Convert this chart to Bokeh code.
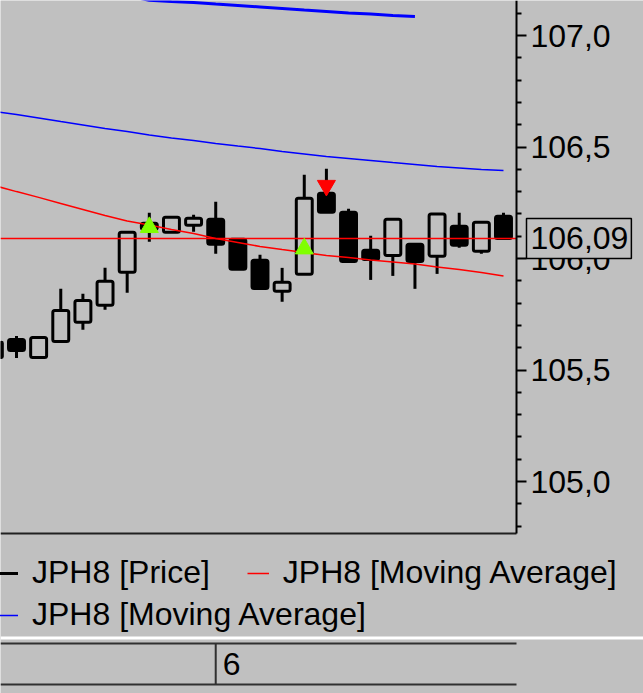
from bokeh.plotting import figure
from bokeh.models import (Range1d, FixedTicker, Legend, LegendItem, Label, Span,
                          ColumnDataSource, LinearAxis)
from bokeh.embed import file_html
from bokeh.resources import INLINE
from bokeh.core.properties import value

# ---------------- data ----------------
bar_index = list(range(24))
opens  = [105.556, 105.637, 105.556, 105.628, 105.714, 105.790, 105.938, 106.158,
          106.118, 106.149, 106.176, 106.086, 105.992, 105.853, 105.929, 106.293,
          106.207, 106.037, 106.014, 106.064, 106.010, 106.145, 106.032, 106.189]
highs  = [105.624, 105.653, 105.646, 105.864, 105.842, 105.958, 106.118, 106.205,
          106.185, 106.196, 106.255, 106.086, 106.017, 105.958, 106.376, 106.403,
          106.223, 106.102, 106.176, 106.064, 106.199, 106.205, 106.163, 106.205]
lows   = [105.556, 105.554, 105.556, 105.628, 105.680, 105.770, 105.846, 106.075,
          106.118, 106.120, 106.021, 105.952, 105.866, 105.806, 105.929, 106.207,
          105.987, 105.904, 105.922, 105.864, 105.931, 106.048, 106.021, 106.090]
closes = [105.624, 105.588, 105.646, 105.767, 105.812, 105.898, 106.118, 106.131,
          106.185, 106.181, 106.064, 105.952, 105.866, 105.893, 106.270, 106.207,
          105.987, 105.996, 106.176, 105.987, 106.199, 106.059, 106.163, 106.090]

ma_red = [106.327, 106.300, 106.274, 106.247, 106.220, 106.193, 106.168, 106.150,
          106.130, 106.112, 106.090, 106.072, 106.054, 106.040, 106.027, 106.013,
          106.004, 105.993, 105.984, 105.975, 105.962, 105.951, 105.937, 105.922]
ma_blue = [106.659, 106.646, 106.630, 106.614, 106.599, 106.583, 106.570, 106.554,
           106.540, 106.529, 106.516, 106.504, 106.493, 106.480, 106.469, 106.457,
           106.448, 106.439, 106.430, 106.422, 106.413, 106.406, 106.399, 106.395]
ma_blue_upper_index = list(range(6, 20))
ma_blue_upper = [107.178, 107.158, 107.152, 107.148, 107.141, 107.135, 107.128,
                 107.121, 107.114, 107.108, 107.101, 107.096, 107.090, 107.085]

buy_index = [7, 14]
buy_price = [106.140, 106.044]
sell_index = [15]
sell_price = [106.327]

y_ticks = [105.0, 105.5, 106.0, 106.5, 107.0]
y_tick_labels = ["105,0", "105,5", "106,0", "106,5", "107,0"]
y_minor_ticks = [104.8, 104.9, 105.1, 105.2, 105.3, 105.4, 105.6, 105.7, 105.8,
                 105.9, 106.1, 106.2, 106.3, 106.4, 106.6, 106.7, 106.8, 106.9, 107.1]

series_names = ["JPH8 [Price]", "JPH8 [Moving Average]", "JPH8 [Moving Average]"]
day_labels = ["6"]
day_start_index = [10]

# ---------------- layout / style ----------------
BG = "#C0C0C0"
FONT = "Liberation Sans"
FS = "32px"
W, H = 643, 693
PX_PER_BAR = 22.136          # horizontal pixels per bar
PX_PER_UNIT = 223.0          # vertical pixels per price unit
X_START = 1 - 16 / PX_PER_BAR
Y_TOP = 107.0 + 35 / PX_PER_UNIT


def px(sx):   # screen x (pixels from left) -> bar coordinate
    return X_START + sx / PX_PER_BAR


def py(sy):   # screen y (pixels from top) -> price coordinate
    return Y_TOP - sy / PX_PER_UNIT


X_AXIS = px(516)      # right edge of the price pane
Y_PANE_BOTTOM = py(533)

up = [c >= o for o, c in zip(opens, closes)]
src = ColumnDataSource(dict(
    x=bar_index, high=highs, low=lows,
    top=[max(o, c) for o, c in zip(opens, closes)],
    bottom=[min(o, c) for o, c in zip(opens, closes)],
    fill=[BG if u else "black" for u in up],
))

p = figure(width=W, height=H,
           x_range=Range1d(X_START, px(W)), y_range=Range1d(py(H), Y_TOP),
           x_axis_type=None, y_axis_type=None,
           toolbar_location=None, output_backend="svg", min_border=0,
           background_fill_color=BG, border_fill_color=BG, outline_line_color=None)

# price axis (right side of pane)
ya = LinearAxis(fixed_location=X_AXIS, bounds=(Y_PANE_BOTTOM, Y_TOP),
                ticker=FixedTicker(ticks=y_ticks, minor_ticks=y_minor_ticks),
                major_label_overrides=dict(zip(y_ticks, y_tick_labels)),
                major_label_text_font=FONT, major_label_text_font_size=FS,
                major_label_text_color="black", major_label_standoff=4,
                axis_line_color="black", axis_line_width=2,
                major_tick_line_color="black", major_tick_line_width=2,
                minor_tick_line_color="black", minor_tick_line_width=2,
                major_tick_out=10, major_tick_in=0, minor_tick_out=5, minor_tick_in=0)
p.add_layout(ya, "right")

# bottom border of the price pane
xa = LinearAxis(fixed_location=Y_PANE_BOTTOM, bounds=(X_START, X_AXIS),
                ticker=FixedTicker(ticks=[]),
                major_tick_line_color=None, minor_tick_line_color=None,
                major_label_text_font_size="0px",
                axis_line_color="#202020", axis_line_width=2)
p.add_layout(xa, "below")

wick = p.segment(x0="x", y0="high", x1="x", y1="low", source=src,
                 line_color="black", line_width=3)
body_kw = dict(x="x", width=0.72, top="top", bottom="bottom", source=src,
               fill_color="fill", line_color="black", line_width=3)
try:
    p.vbar(border_radius=2, **body_kw)
except Exception:
    p.vbar(**body_kw)

p.line(ma_blue_upper_index, ma_blue_upper, line_color="#0000FF", line_width=3)
blue = p.line(bar_index, ma_blue, line_color="#0000FF", line_width=1.5)
red = p.line(bar_index, ma_red, line_color="#FF0000", line_width=1.5)
p.segment(x0=[X_START], y0=[closes[-1]], x1=[X_AXIS], y1=[closes[-1]],
          line_color="#FF0000", line_width=1.5)

p.scatter(buy_index, buy_price, marker="triangle", size=18,
          fill_color="#80FF00", line_color="#80FF00")
p.scatter(sell_index, sell_price, marker="inverted_triangle", size=18,
          fill_color="#FF0000", line_color="#FF0000")

label_kw = dict(x=526, x_units="screen", y=closes[-1], y_units="data",
                text=f"{closes[-1]:.2f}".replace(".", ","),
                text_font=FONT, text_font_size=FS, text_color="black",
                text_align="left", text_baseline="middle",
                border_line_color="black", border_line_width=1.5,
                background_fill_color=BG)
try:
    last_label = Label(padding=dict(left=4, right=3, top=9, bottom=9), **label_kw)
except Exception:
    last_label = Label(padding=4, **label_kw)
p.add_layout(last_label)

leg_kw = dict(orientation="horizontal", glyph_width=22, glyph_height=36, label_height=36,
              label_standoff=14, padding=0, margin=0, spacing=37,
              border_line_color=None, background_fill_alpha=0,
              label_text_font=FONT, label_text_font_size=FS, label_text_color="black")
leg1 = Legend(items=[LegendItem(label=series_names[0], renderers=[wick]),
                     LegendItem(label=series_names[1], renderers=[red])],
              location=(-4, H - 591), **leg_kw)
leg2 = Legend(items=[LegendItem(label=series_names[2], renderers=[blue])],
              location=(-4, H - 633), **leg_kw)
p.add_layout(leg1)
p.add_layout(leg2)

# ---------------- status bar ----------------
p.add_layout(Span(location=py(637.5), dimension="width", line_color="white", line_width=3))
p.segment(x0=[X_START, X_START], y0=[py(643), py(684)], x1=[X_AXIS, X_AXIS],
          y1=[py(643), py(684)], line_color="#303030", line_width=2)
p.segment(x0=day_start_index, y0=[py(643)] * len(day_start_index),
          x1=day_start_index, y1=[py(684)] * len(day_start_index),
          line_color="#303030", line_width=2)
p.text(x=day_start_index, y=[py(663.5)] * len(day_labels), text=day_labels, x_offset=7,
       text_align="left", text_baseline="middle", text_font=value(FONT),
       text_font_size=FS, text_color="black")

open("out.html", "w").write(file_html(p, INLINE))
